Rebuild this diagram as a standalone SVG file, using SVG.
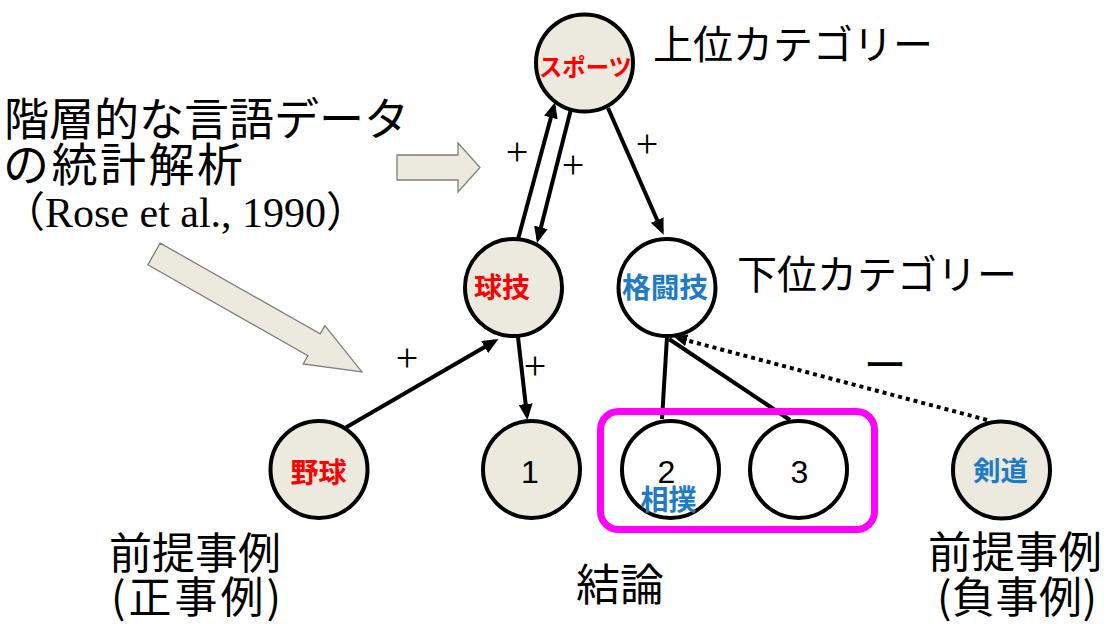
<svg xmlns="http://www.w3.org/2000/svg" width="1110" height="624" viewBox="0 0 1110 624">
  <defs>
    <style>
      .node { stroke: #000; stroke-width: 4; }
      .filled { fill: #ECE9DF; }
      .open { fill: #FFFFFF; }
      .jp { font-family: "Noto Sans CJK JP", "Liberation Sans", sans-serif; fill: #000; }
      .lbl { font-family: "Noto Sans CJK JP", "Liberation Sans", sans-serif; font-weight: bold; text-anchor: middle; }
      .red { fill: #FF0000; }
      .blue { fill: #1E7BC4; }
      .num { font-family: "Liberation Sans", Arial, sans-serif; font-size: 32px; text-anchor: middle; fill: #000; }
      .plus { font-family: "Liberation Serif", "Times New Roman", serif; font-size: 40px; text-anchor: middle; fill: #000; }
      .edge { stroke: #000; stroke-width: 4; fill: none; }
      .dotted { stroke: #000; stroke-width: 4; fill: none; stroke-dasharray: 4 4; }
      .block { fill: #ECE9DF; stroke: #7F7F7F; stroke-width: 1.3; }
    </style>
    <marker id="head" markerUnits="userSpaceOnUse" markerWidth="16" markerHeight="14" refX="12" refY="7" orient="auto">
      <path d="M0,0 L16,7 L0,14 z" fill="#000"/>
    </marker>
    <marker id="headSmall" markerUnits="userSpaceOnUse" markerWidth="13" markerHeight="12" refX="9" refY="6" orient="auto">
      <path d="M0,0 L13,6 L0,12 z" fill="#000"/>
    </marker>
  </defs>

  <rect x="0" y="0" width="1110" height="624" fill="#FFFFFF"/>

  <!-- wide hollow arrows pointing at the hierarchy -->
  <g id="block-arrows">
    <polygon class="block" points="397,155 458,155 458,143 480,167.5 458,192 458,180 397,180"/>
    <polygon class="block" transform="translate(154,254) rotate(29.56)" points="0,-12.5 184,-12.5 184,-22 239,0 184,22 184,12.5 0,12.5"/>
  </g>

  <!-- connectors -->
  <g id="connectors">
    <line class="edge" x1="517" y1="243" x2="554" y2="106" marker-end="url(#head)"/>
    <line class="edge" x1="571" y1="109" x2="538" y2="239" marker-end="url(#head)"/>
    <line class="edge" x1="608" y1="108" x2="662" y2="231" marker-end="url(#head)"/>
    <line class="edge" x1="345" y1="428" x2="495" y2="341" marker-end="url(#head)"/>
    <line class="edge" x1="518" y1="337" x2="527" y2="416" marker-end="url(#head)"/>
    <line class="edge" x1="662" y1="419" x2="667" y2="337"/>
    <line class="edge" x1="790" y1="420" x2="669" y2="339"/>
    <line class="dotted" x1="987" y1="420" x2="678" y2="338" marker-end="url(#headSmall)"/>
  </g>

  <!-- edge signs -->
  <g id="signs">
    <text class="plus" x="517" y="165">+</text>
    <text class="plus" x="573" y="178">+</text>
    <text class="plus" x="647" y="157">+</text>
    <text class="plus" x="407" y="371">+</text>
    <text class="plus" x="535" y="379">+</text>
    <text class="jp" x="885" y="381" font-size="43" text-anchor="middle">ー</text>
  </g>

  <!-- conclusion group frame -->
  <rect id="conclusion-frame" x="600.5" y="411.5" width="274" height="118" rx="18" ry="18" fill="none" stroke="#FF00FF" stroke-width="7"/>

  <g id="node-sports">
    <circle class="node filled" cx="584.5" cy="63" r="48.5"/>
    <text class="lbl red" x="585.5" y="76" font-size="24" textLength="93" lengthAdjust="spacingAndGlyphs">スポーツ</text>
  </g>

  <g id="node-ballgame">
    <circle class="node filled" cx="513.5" cy="287.5" r="48.5"/>
    <text class="lbl red" x="502" y="298" font-size="28">球技</text>
  </g>

  <g id="node-martial">
    <circle class="node open" cx="667" cy="287.5" r="48.5"/>
    <text class="lbl blue" x="665" y="298" font-size="28.7">格闘技</text>
  </g>

  <g id="node-baseball">
    <circle class="node filled" cx="319" cy="469.5" r="48.5"/>
    <text class="lbl red" x="318.5" y="483" font-size="28">野球</text>
  </g>

  <g id="node-1">
    <circle class="node filled" cx="531.5" cy="469.5" r="48.5"/>
    <text class="num" x="530" y="483">1</text>
  </g>

  <g id="node-2">
    <circle class="node open" cx="670.5" cy="469.5" r="48.5"/>
    <text class="num" x="666.5" y="483">2</text>
    <text class="lbl blue" x="668.5" y="510" font-size="28">相撲</text>
  </g>

  <g id="node-3">
    <circle class="node open" cx="798.5" cy="469.5" r="48.5"/>
    <text class="num" x="799.5" y="483">3</text>
  </g>

  <g id="node-kendo">
    <circle class="node filled" cx="1001.5" cy="470" r="48.5"/>
    <text class="lbl blue" x="1000.5" y="481" font-size="27.5">剣道</text>
  </g>

  <!-- captions -->
  <g id="captions">
    <text class="jp" x="4" y="136" font-size="45">階層的な言語データ</text>
    <text class="jp" x="3" y="181" font-size="46" textLength="240" lengthAdjust="spacing">の統計解析</text>
    <text x="3" y="227" font-size="42" font-family="'Liberation Serif', 'Noto Sans CJK JP', serif" fill="#000">（Rose et al., 1990）</text>

    <text class="jp" x="653" y="59" font-size="40">上位カテゴリー</text>
    <text class="jp" x="737" y="289" font-size="40">下位カテゴリー</text>

    <text class="jp" x="109" y="569" font-size="43">前提事例</text>
    <text class="jp" x="111" y="613" font-size="43" textLength="170" lengthAdjust="spacing">(正事例)</text>

    <text class="jp" x="576" y="601" font-size="44">結論</text>

    <text class="jp" x="928" y="568" font-size="43.5">前提事例</text>
    <text class="jp" x="937" y="613" font-size="43" textLength="160" lengthAdjust="spacing">(負事例)</text>
  </g>
</svg>
